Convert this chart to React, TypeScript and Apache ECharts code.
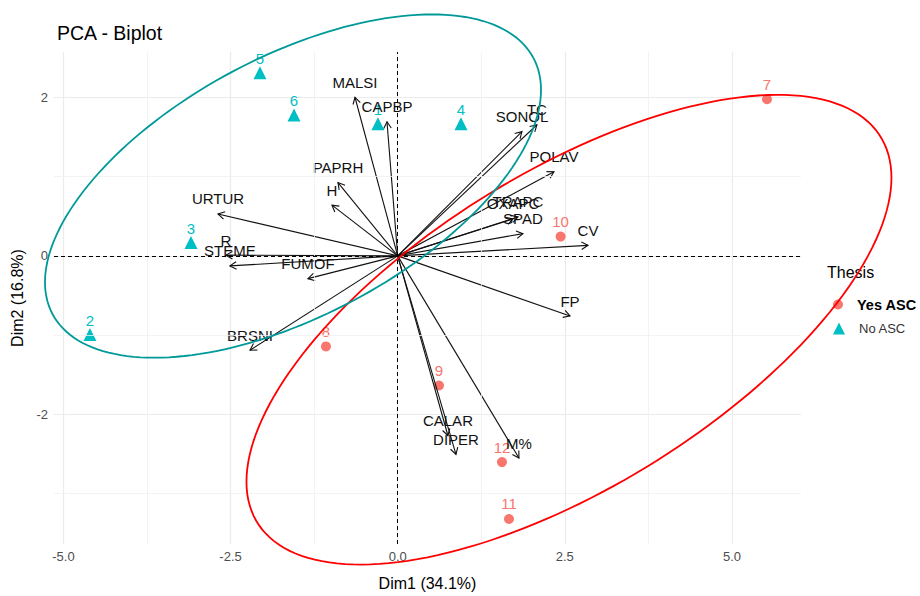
import React, { useEffect, useRef } from "react";
import * as echarts from "echarts";

const FONT = "'Liberation Sans', Arial, Helvetica, sans-serif";

// Individuals (PCA scores)
const YES_LABELS = ["7", "8", "9", "10", "11", "12"];
const YES_X = [5.524, -1.073, 0.618, 2.437, 1.665, 1.56];
const YES_Y = [1.979, -1.144, -1.638, 0.244, -3.325, -2.606];
const NO_LABELS = ["1", "2", "3", "4", "5", "6"];
const NO_X = [-0.295, -4.603, -3.092, 0.947, -2.06, -1.551];
const NO_Y = [1.669, -0.994, 0.17, 1.669, 2.313, 1.781];

// Variables (arrow tips)
const VAR_NAMES = ["MALSI", "CAPBP", "PAPRH", "H", "URTUR", "R", "STEME", "FUMOF", "BRSNI", "CALAR", "DIPER", "M%", "FP", "CV", "SPAD", "OXAPC", "TRAPC", "POLAV", "SONOL", "TC"];
const VAR_X = [-0.639, -0.16, -0.893, -0.983, -2.688, -2.569, -2.51, -1.342, -2.209, 0.752, 0.872, 1.814, 2.578, 2.847, 1.874, 1.725, 1.8, 2.338, 1.859, 2.083];
const VAR_Y = [2.004, 1.694, 0.926, 0.641, 0.529, 0.009, -0.127, -0.288, -1.193, -2.273, -2.509, -2.555, -0.76, 0.133, 0.281, 0.467, 0.492, 1.062, 1.57, 1.657];

// Axes
const X_MAJOR = [-5, -2.5, 0, 2.5, 5];
const X_MINOR = [-3.75, -1.25, 1.25, 3.75];
const Y_MAJOR = [-2, 0, 2];
const Y_MINOR = [-3, -1, 1];
const X_RANGE = [-5.141, 6.033];
const Y_RANGE = [-3.641, 2.576];

// Group ellipses: centre x, centre y, half-extent x, half-extent y, correlation
const ELL_YES = [2.562, -0.933, 4.824, 2.968, 0.647];
const ELL_NO = [-1.566, 0.882, 3.71, 2.169, 0.56];

const RED_PT = "#F8766D";
const TEAL_PT = "#00BFC4";
const RED_ELL = "#FF0000";
const TEAL_ELL = "#009999";

function ellipse(e: number[]) {
  const [cx, cy, ax, ay, rho] = e;
  const d = Math.acos(rho);
  const pts: number[][] = [];
  const n = 180;
  for (let i = 0; i <= n; i++) {
    const t = (i / n) * 2 * Math.PI;
    pts.push([cx + ax * Math.cos(t), cy + ay * Math.cos(t - d)]);
  }
  return pts;
}

function ellipseSeries(e: number[], color: string) {
  const pts = ellipse(e);
  return {
    type: "custom",
    z: 5,
    clip: false,
    silent: true,
    encode: { x: 0, y: 1 },
    data: pts,
    renderItem: (params: any, api: any) => {
      if (params.dataIndex !== 0) return null;
      const pp = pts.map((p) => api.coord(p));
      return { type: "polyline", shape: { points: pp }, style: { stroke: color, lineWidth: 1.8, fill: "none" } };
    },
  };
}

export default function App() {
  const ref = useRef<HTMLDivElement>(null);
  useEffect(() => {
    document.body.style.margin = "0";
    const chart = echarts.init(ref.current!, null, { renderer: "svg" });
    const gridMinor = { color: "#F0F0F0", width: 0.8 };
    const option: any = {
      animation: false,
      textStyle: { fontFamily: FONT },
      title: {
        text: "PCA - Biplot",
        left: 57,
        top: 23,
        padding: 0,
        textStyle: { fontSize: 19.5, fontWeight: "normal", color: "#000", fontFamily: FONT },
      },
      legend: [
        {
          orient: "vertical",
          left: 833,
          top: 297,
          padding: 0,
          itemWidth: 10,
          itemHeight: 10,
          selectedMode: false,
          data: [{ name: "Yes ASC", icon: "circle", textStyle: { fontWeight: "bold", fontSize: 14.5, color: "#000", fontFamily: FONT, padding: [3, 0, 0, 9] } }],
        },
        {
          orient: "vertical",
          left: 833,
          top: 322,
          padding: 0,
          itemWidth: 12,
          itemHeight: 12,
          selectedMode: false,
          data: [{ name: "No ASC", icon: "triangle", textStyle: { fontSize: 13, color: "#333", fontFamily: FONT, padding: [0, 0, 0, 9] } }],
        },
      ],
      graphic: [
        { type: "text", left: 827, top: 264, style: { text: "Thesis", fontSize: 16, fill: "#000", fontFamily: FONT } },
      ],
      grid: { left: 54, right: 119, top: 52, bottom: 42, containLabel: false },
      xAxis: {
        type: "value",
        min: X_RANGE[0],
        max: X_RANGE[1],
        axisLine: { show: false },
        axisTick: { show: false, customValues: X_MAJOR },
        axisLabel: { customValues: X_MAJOR, formatter: (v: number) => v.toFixed(1), color: "#4D4D4D", fontSize: 13, margin: 6, fontFamily: FONT },
        splitLine: { show: true, lineStyle: { color: "#EBEBEB", width: 1.2 } },
        name: "Dim1 (34.1%)",
        nameLocation: "middle",
        nameGap: 31,
        nameTextStyle: { fontSize: 16, color: "#000", fontFamily: FONT },
      },
      yAxis: {
        type: "value",
        min: Y_RANGE[0],
        max: Y_RANGE[1],
        axisLine: { show: false },
        axisTick: { show: false, customValues: Y_MAJOR },
        axisLabel: { customValues: Y_MAJOR, formatter: (v: number) => String(v), color: "#4D4D4D", fontSize: 13, margin: 6, fontFamily: FONT },
        splitLine: { show: true, lineStyle: { color: "#EBEBEB", width: 1.2 } },
        name: "Dim2 (16.8%)",
        nameLocation: "middle",
        nameGap: 21,
        nameTextStyle: { fontSize: 16, color: "#000", fontFamily: FONT },
      },
      series: [
        {
          name: "refLines",
          type: "line",
          data: [],
          z: 1,
          silent: true,
          markLine: {
            silent: true,
            symbol: ["none", "none"],
            label: { show: false },
            animation: false,
            data: [
              ...X_MINOR.map((v) => ({ xAxis: v, lineStyle: { ...gridMinor, type: "solid" } })),
              ...Y_MINOR.map((v) => ({ yAxis: v, lineStyle: { ...gridMinor, type: "solid" } })),
              { xAxis: 0, lineStyle: { color: "#000", width: 1, type: [4, 3] } },
              { yAxis: 0, lineStyle: { color: "#000", width: 1, type: [4, 3] } },
            ],
          },
        },
        {
          name: "Yes ASC",
          type: "scatter",
          symbol: "circle",
          symbolSize: 10,
          z: 3,
          itemStyle: { color: RED_PT, opacity: 1 },
          data: YES_X.map((x, i) => ({ value: [x, YES_Y[i]], name: YES_LABELS[i] })),
          label: { show: true, formatter: "{b}", position: "inside", offset: [0, -15], color: RED_PT, fontSize: 15, fontFamily: FONT },
        },
        {
          name: "No ASC",
          type: "scatter",
          symbol: "triangle",
          symbolSize: 13,
          z: 3,
          itemStyle: { color: TEAL_PT, opacity: 1 },
          data: NO_X.map((x, i) => ({ value: [x, NO_Y[i]], name: NO_LABELS[i] })),
          label: { show: true, formatter: "{b}", position: "inside", offset: [0, -14], color: TEAL_PT, fontSize: 15, fontFamily: FONT },
        },
        {
          name: "variables",
          type: "custom",
          z: 4,
          silent: true,
          clip: false,
          encode: { x: 0, y: 1 },
          data: VAR_X.map((x, i) => [x, VAR_Y[i]]),
          renderItem: (params: any, api: any) => {
            const i = params.dataIndex;
            const o = api.coord([0, 0]);
            const p = api.coord([api.value(0), api.value(1)]);
            const ang = Math.atan2(p[1] - o[1], p[0] - o[0]);
            const L = 7.5;
            const A = Math.PI / 6;
            const h1 = [p[0] - L * Math.cos(ang - A), p[1] - L * Math.sin(ang - A)];
            const h2 = [p[0] - L * Math.cos(ang + A), p[1] - L * Math.sin(ang + A)];
            return {
              type: "group",
              children: [
                { type: "line", shape: { x1: o[0], y1: o[1], x2: p[0], y2: p[1] }, style: { stroke: "#111", lineWidth: 1.1 } },
                { type: "polyline", shape: { points: [h1, p, h2] }, style: { stroke: "#111", lineWidth: 1.1, fill: "none" } },
                {
                  type: "text",
                  x: p[0],
                  y: p[1] - 15,
                  style: { text: VAR_NAMES[i], fill: "#111", fontSize: 15, fontFamily: FONT, align: "center", verticalAlign: "middle" },
                },
              ],
            };
          },
        },
        ellipseSeries(ELL_YES, RED_ELL),
        ellipseSeries(ELL_NO, TEAL_ELL),
      ],
    };
    chart.setOption(option);
    return () => chart.dispose();
  }, []);
  return <div ref={ref} style={{ width: 920, height: 596 }} />;
}
